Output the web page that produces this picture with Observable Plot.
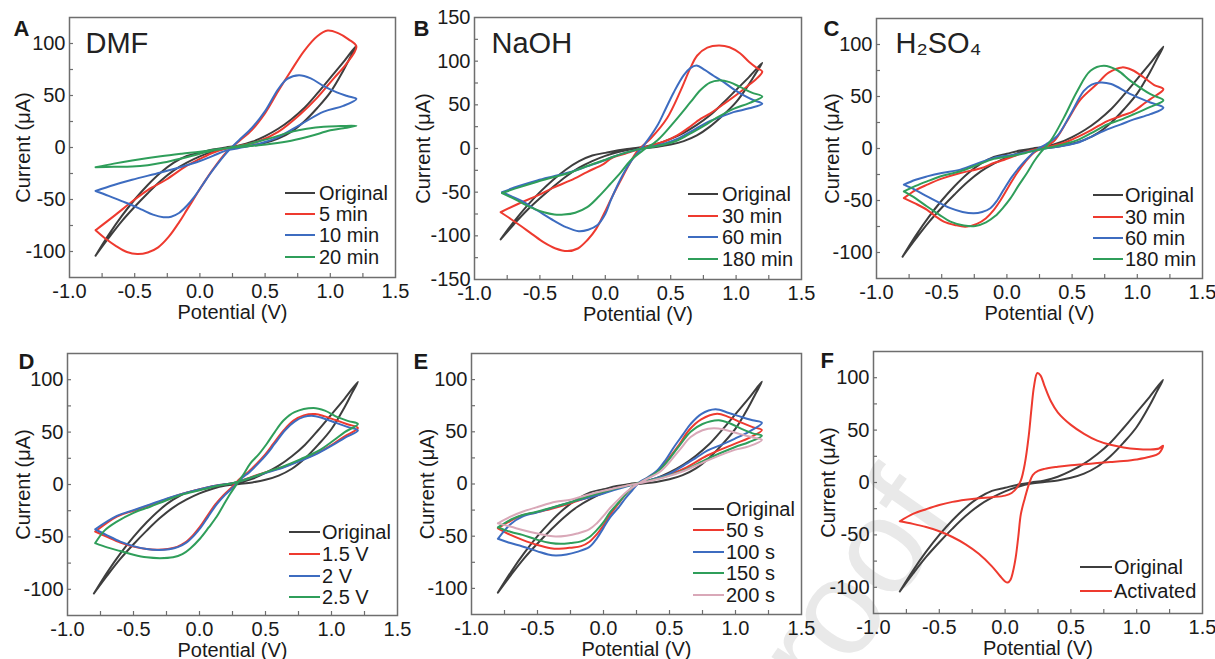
<!DOCTYPE html>
<html><head><meta charset="utf-8">
<script src="https://cdn.jsdelivr.net/npm/d3@7"></script>
<script src="https://cdn.jsdelivr.net/npm/@observablehq/plot@0.6"></script>
<style>
body{margin:0;background:#fff;}
#root{position:relative;width:1215px;height:659px;overflow:hidden;font-family:"Liberation Sans",Arial,sans-serif;background:#fff;}
.panel{position:absolute;}
.lgl{position:absolute;height:2px;}
.lgt{position:absolute;font-size:20px;line-height:24px;color:#1a1a1a;white-space:nowrap;}
#wm{position:absolute;left:0;top:0;}
</style></head><body><div id="root">
<svg id="wm" width="1215" height="659"><text x="773" y="779" transform="rotate(-55 773 779)" font-family="Liberation Sans, Arial, sans-serif" font-size="135" fill="#e9e9e9">Proof</text></svg>
</div>
<script>
// ---------- tick labels ----------
const xMajor = [-1, -0.5, 0, 0.5, 1, 1.5];
const xInnerTicks = [-0.75, -0.5, -0.25, 0, 0.25, 0.5, 0.75, 1, 1.25];
const yMajor100 = [-100, -50, 0, 50, 100];
const yInner100 = [-100, -75, -50, -25, 0, 25, 50, 75, 100];
const yMajor150 = [-150, -100, -50, 0, 50, 100, 150];
const yInner150 = [-125, -100, -75, -50, -25, 0, 25, 50, 75, 100, 125];

// ---------- legend categories ----------
const labelsA = ["Original", "5 min", "10 min", "20 min"];
const labelsB = ["Original", "30 min", "60 min", "180 min"];
const labelsC = ["Original", "30 min", "60 min", "180 min"];
const labelsD = ["Original", "1.5 V", "2 V", "2.5 V"];
const labelsE = ["Original", "50 s", "100 s", "150 s", "200 s"];
const labelsF = ["Original", "Activated"];

// ---------- series values [potential V, current µA] ----------
const original = [[-0.8,-104],[-0.7,-84],[-0.6,-66],[-0.5,-50],[-0.4,-36],[-0.3,-24],[-0.2,-14.5],[-0.1,-8],[0,-5],[0.1,-2],[0.2,0],[0.3,2],[0.4,5.5],[0.5,11],[0.6,18],[0.7,27],[0.8,38],[0.9,52],[1.0,67],[1.1,82],[1.2,98],
 [1.15,86],[1.1,74],[1.0,53],[0.9,38],[0.8,25],[0.7,15],[0.6,8.5],[0.5,4.5],[0.4,2],[0.3,0.5],[0.2,-1],[0.1,-4],[0,-8.5],[-0.1,-14.5],[-0.2,-22],[-0.3,-32],[-0.4,-44],[-0.5,-57],[-0.6,-71],[-0.7,-87],[-0.8,-104]];

const dmf5 = [[-0.8,-79.5],[-0.72,-88],[-0.64,-95],[-0.56,-100.5],[-0.48,-102.5],[-0.4,-101],[-0.32,-96],[-0.24,-86],[-0.16,-72],[-0.1,-60],[-0.03,-46],[0.03,-34],[0.1,-21],[0.2,-5],[0.3,6],[0.4,17],[0.5,33],[0.6,54],[0.7,74],[0.8,93],[0.9,107],[0.98,112.5],[1.06,110],[1.14,104],[1.2,97],
 [1.12,80],[1.03,67],[0.9,48],[0.77,32],[0.6,15],[0.45,6],[0.3,1.5],[0.2,-1],[0.1,-5],[0,-11],[-0.1,-17.5],[-0.26,-31],[-0.4,-41],[-0.52,-52],[-0.65,-65],[-0.8,-79.5]];
const dmf10 = [[-0.8,-41.8],[-0.7,-46.5],[-0.6,-51.5],[-0.52,-55.5],[-0.44,-60],[-0.36,-64.5],[-0.28,-67],[-0.22,-66.5],[-0.16,-63],[-0.1,-56],[-0.04,-47],[0.02,-36],[0.08,-25],[0.14,-15],[0.22,-3],[0.3,7],[0.4,19],[0.5,35],[0.6,56],[0.67,66],[0.76,69.5],[0.85,66.5],[0.95,59],[1.05,53],[1.13,49.5],[1.2,46.7],
 [1.1,40],[0.95,34.5],[0.77,22],[0.6,10],[0.45,3.5],[0.3,-0.5],[0.2,-3],[0.1,-8],[0,-13],[-0.14,-18.5],[-0.3,-24],[-0.52,-31],[-0.66,-36],[-0.8,-41.8]];
const dmf20 = [[-0.8,-18.9],[-0.66,-18.6],[-0.52,-18.3],[-0.4,-17],[-0.28,-14.5],[-0.14,-10.5],[0,-6],[0.12,-2.5],[0.25,0.5],[0.35,2.5],[0.44,5.5],[0.57,10],[0.7,15],[0.82,18],[0.95,20],[1.08,20.6],[1.2,20.9],
 [1.1,18.5],[1.0,16.5],[0.85,11],[0.7,6.5],[0.55,3.5],[0.44,2],[0.3,0.5],[0.15,-1.5],[0,-4],[-0.14,-6],[-0.3,-8.5],[-0.52,-12.5],[-0.66,-15.5],[-0.8,-18.9]];

const naoh30 = [[-0.8,-73],[-0.72,-81],[-0.648,-88.5],[-0.56,-98],[-0.47,-107.5],[-0.38,-114.5],[-0.29,-117.5],[-0.21,-114.5],[-0.138,-105],[-0.07,-92],[-0.011,-75],[0.05,-56],[0.116,-37],[0.18,-19],[0.244,-3],[0.35,12],[0.473,35],[0.575,66],[0.65,92],[0.703,106.5],[0.78,115.5],[0.868,118],[0.95,116],[1.03,109],[1.1,99],[1.16,92],[1.2,88],
 [1.15,79],[1.1,73],[1.034,65],[0.906,51],[0.8,40],[0.728,34],[0.63,23],[0.55,15],[0.45,8],[0.35,3.5],[0.25,-1],[0.15,-6],[0.05,-11],[-0.011,-17.5],[-0.14,-27],[-0.266,-36.6],[-0.4,-45],[-0.52,-54],[-0.66,-63],[-0.8,-73]];
const naoh60 = [[-0.79,-50],[-0.72,-54.5],[-0.648,-59.5],[-0.52,-71],[-0.394,-82.5],[-0.3,-90],[-0.203,-94.7],[-0.13,-93],[-0.062,-88],[0,-75],[0.04,-60],[0.1,-40],[0.167,-21.4],[0.23,-8],[0.294,3.5],[0.397,26],[0.46,45],[0.524,64.5],[0.6,84],[0.65,92],[0.697,95],[0.76,90],[0.83,83],[0.906,76],[0.98,68],[1.059,60.7],[1.13,55.5],[1.2,51.2],
 [1.1,46],[0.98,41.6],[0.88,36],[0.779,30],[0.66,20],[0.55,11],[0.45,5.5],[0.35,2],[0.25,-1],[0.15,-5],[0.05,-10],[-0.011,-13.7],[-0.14,-20.5],[-0.266,-27],[-0.4,-32],[-0.52,-36.6],[-0.66,-43],[-0.79,-50]];
const naoh180 = [[-0.79,-51],[-0.72,-56],[-0.648,-61.5],[-0.56,-68],[-0.47,-73],[-0.39,-75.5],[-0.317,-75.6],[-0.23,-73.5],[-0.138,-67.2],[-0.05,-55],[0.04,-40.4],[0.12,-27],[0.193,-13.7],[0.28,-3],[0.397,9.2],[0.524,30],[0.651,53],[0.728,67],[0.8,75.5],[0.868,78],[0.95,76],[1.034,70.2],[1.12,64],[1.2,59.5],
 [1.1,52],[0.98,45.4],[0.85,35],[0.779,28.3],[0.66,18],[0.55,9.2],[0.45,4.5],[0.35,1.5],[0.25,-1],[0.15,-5],[0.05,-10],[-0.011,-13.5],[-0.14,-20],[-0.266,-27.5],[-0.4,-33],[-0.52,-38],[-0.66,-44.5],[-0.79,-51]];

const h2so430 = [[-0.79,-47.7],[-0.7,-53],[-0.612,-59],[-0.55,-65],[-0.484,-70.3],[-0.4,-73.5],[-0.318,-75.2],[-0.23,-72.5],[-0.16,-67],[-0.1,-59],[-0.05,-50],[0.014,-36.5],[0.078,-23.5],[0.14,-13],[0.205,-4.2],[0.28,1],[0.36,7],[0.462,26.4],[0.564,47],[0.69,62],[0.78,73],[0.884,78],[0.96,75.5],[1.05,68.3],[1.13,61],[1.2,57],
 [1.1,47.5],[1.05,43],[0.973,36],[0.87,31],[0.77,26.4],[0.65,18],[0.54,11],[0.45,6],[0.35,2.5],[0.25,0],[0.15,-3],[0.05,-7.5],[-0.05,-12],[-0.101,-14],[-0.2,-19],[-0.357,-23.5],[-0.5,-29],[-0.612,-34.8],[-0.7,-40],[-0.79,-47.7]];
const h2so460 = [[-0.79,-34.8],[-0.7,-40],[-0.612,-46],[-0.52,-52],[-0.433,-57.4],[-0.34,-61],[-0.254,-62.3],[-0.19,-61],[-0.127,-57.4],[-0.075,-50],[-0.025,-39.7],[0.04,-27],[0.103,-17],[0.17,-8],[0.23,-1],[0.3,4],[0.386,12],[0.488,32.9],[0.59,55.4],[0.65,61.5],[0.718,63.5],[0.8,62],[0.948,52.2],[1.1,44.2],[1.2,39.3],
 [1.1,33],[0.973,28],[0.87,23],[0.77,18.4],[0.65,11.5],[0.54,5.5],[0.45,3],[0.35,1],[0.25,-1],[0.15,-3.5],[0.05,-6],[-0.101,-9],[-0.23,-14.5],[-0.357,-20.3],[-0.5,-23.5],[-0.612,-26.8],[-0.7,-30],[-0.79,-34.8]];
const h2so4180 = [[-0.79,-41.3],[-0.7,-48],[-0.612,-55.8],[-0.52,-63.5],[-0.433,-70.3],[-0.33,-74],[-0.242,-74.5],[-0.16,-71],[-0.09,-65],[-0.03,-57],[0.027,-48],[0.09,-35.5],[0.154,-23.5],[0.21,-12],[0.256,-4.2],[0.334,7.1],[0.437,29.7],[0.54,55.4],[0.641,74.7],[0.743,79.5],[0.85,75],[0.948,65],[1.101,52.2],[1.2,46.4],
 [1.1,40],[0.973,32.9],[0.87,27.5],[0.77,23.2],[0.65,15],[0.54,8],[0.45,4.5],[0.35,1.5],[0.25,-1],[0.15,-4],[0.05,-7],[-0.101,-10],[-0.23,-16],[-0.357,-21.9],[-0.5,-26.5],[-0.612,-31.6],[-0.7,-36],[-0.79,-41.3]];

const volt15 = [[-0.79,-44.9],[-0.7,-50],[-0.6,-55.5],[-0.5,-59.3],[-0.4,-61.6],[-0.32,-62.2],[-0.24,-61.5],[-0.17,-59.5],[-0.11,-55.5],[-0.05,-48.5],[0,-41],[0.056,-30.6],[0.12,-19],[0.182,-10.1],[0.25,-2],[0.308,5.7],[0.37,12],[0.434,19.9],[0.5,29],[0.56,38.9],[0.64,52],[0.712,61],[0.79,66],[0.876,67.3],[0.95,65],[1.03,61.5],[1.12,57.5],[1.2,54],
 [1.1,46],[1.015,38.9],[0.9,30.5],[0.763,23],[0.64,17],[0.51,12],[0.4,7.5],[0.258,1.5],[0.15,-0.5],[0.05,-3],[-0.121,-8.5],[-0.25,-14],[-0.374,-19.6],[-0.5,-25],[-0.626,-30.6],[-0.79,-44.9]];
const volt2 = [[-0.79,-42.7],[-0.7,-48.5],[-0.6,-54.5],[-0.5,-58.8],[-0.4,-61.6],[-0.31,-62.5],[-0.23,-61.8],[-0.16,-59.5],[-0.1,-55.5],[-0.04,-48.5],[0.01,-41],[0.066,-30.6],[0.13,-19],[0.192,-10.1],[0.26,-2],[0.318,5.7],[0.38,12],[0.444,19.9],[0.51,29],[0.57,38.9],[0.65,52],[0.72,60],[0.79,64.5],[0.851,65.7],[0.93,63.5],[1.03,59],[1.12,55],[1.2,51.5],
 [1.1,44.5],[1.015,38],[0.9,30],[0.763,22.5],[0.64,16.5],[0.51,11.5],[0.4,7],[0.258,1.5],[0.15,-0.5],[0.05,-3],[-0.121,-8.5],[-0.25,-13.5],[-0.374,-19],[-0.5,-24.5],[-0.626,-30],[-0.79,-42.7]];
const volt25 = [[-0.79,-55.9],[-0.7,-60],[-0.6,-63.5],[-0.5,-67],[-0.4,-69.5],[-0.3,-70.3],[-0.2,-69.5],[-0.13,-66.5],[-0.07,-61],[0.005,-51.5],[0.07,-41],[0.131,-30.6],[0.18,-20],[0.232,-9],[0.28,0],[0.33,9],[0.384,20],[0.45,29],[0.51,38.9],[0.57,50],[0.636,61],[0.72,69],[0.864,73],[0.95,70.5],[1.05,64],[1.13,60.5],[1.2,57.8],
 [1.1,50],[1.015,42],[0.9,32],[0.763,24],[0.64,17.5],[0.51,12],[0.4,7],[0.258,1.5],[0.15,-1],[0.05,-4],[-0.121,-9.2],[-0.25,-15],[-0.374,-21.2],[-0.5,-27],[-0.626,-35.4],[-0.72,-44],[-0.79,-55.9]];

const sec50 = [[-0.8,-42.4],[-0.7,-49],[-0.614,-53.5],[-0.5,-58.5],[-0.4,-61.5],[-0.337,-62],[-0.25,-61],[-0.17,-59.5],[-0.109,-55.5],[-0.05,-48],[0,-39.5],[0.05,-29.5],[0.118,-18],[0.18,-8],[0.23,-2],[0.3,3],[0.42,14],[0.558,35],[0.65,52],[0.74,62],[0.861,67.4],[0.95,64],[1.05,58.5],[1.13,54.5],[1.2,51.6],
 [1.1,44],[0.993,38.4],[0.786,27.3],[0.609,14.6],[0.45,7],[0.3,2],[0.2,-1],[0.1,-4],[0,-8],[-0.109,-12.5],[-0.25,-18.5],[-0.4,-24],[-0.52,-27.5],[-0.614,-30],[-0.7,-35],[-0.8,-42.4]];
const sec100 = [[-0.8,-52.5],[-0.72,-56],[-0.614,-59.8],[-0.5,-64.5],[-0.42,-67.5],[-0.362,-68.4],[-0.28,-67.5],[-0.2,-65],[-0.109,-60.5],[-0.05,-52],[0,-42],[0.05,-32],[0.118,-21.8],[0.17,-13],[0.218,-6],[0.27,1.5],[0.33,6],[0.407,13],[0.47,23],[0.533,35.2],[0.6,47],[0.659,57.3],[0.74,67],[0.848,71.6],[0.95,68],[1.05,64],[1.13,61],[1.2,58.5],
 [1.1,50],[0.993,43.3],[0.9,38],[0.786,32],[0.7,25],[0.609,17.8],[0.5,10],[0.4,5.5],[0.3,2],[0.2,-1.5],[0.1,-5],[0,-9.2],[-0.109,-13],[-0.25,-17.5],[-0.362,-21.8],[-0.5,-27],[-0.614,-31.3],[-0.7,-38],[-0.8,-52.5]];
const sec150 = [[-0.8,-41.5],[-0.7,-46],[-0.614,-48.7],[-0.5,-53.5],[-0.4,-56.5],[-0.324,-57.3],[-0.25,-56.5],[-0.17,-55],[-0.109,-51],[-0.05,-44],[0,-36.5],[0.05,-27],[0.12,-17],[0.18,-8],[0.23,-2],[0.3,3],[0.43,14],[0.565,35],[0.66,50],[0.75,57.5],[0.874,61.1],[0.96,58],[1.05,52.5],[1.13,48.5],[1.2,46.2],
 [1.1,40],[0.993,35.2],[0.786,24.1],[0.609,13],[0.45,6.5],[0.3,2],[0.2,-1],[0.1,-4],[0,-7.5],[-0.109,-11.5],[-0.25,-17.5],[-0.4,-23],[-0.52,-27],[-0.614,-29.7],[-0.7,-34],[-0.8,-41.5]];
const sec200 = [[-0.8,-37.7],[-0.7,-41],[-0.614,-44],[-0.5,-47.5],[-0.42,-49.5],[-0.362,-50.3],[-0.28,-49.5],[-0.2,-47.5],[-0.109,-43.5],[-0.05,-37.5],[0,-30.5],[0.05,-23],[0.12,-14],[0.18,-7],[0.24,-1.5],[0.3,3],[0.44,13],[0.572,32],[0.66,45],[0.75,51.5],[0.836,53.5],[0.92,52],[1.03,48],[1.12,45],[1.2,42.2],
 [1.1,36],[0.993,32.7],[0.786,22.4],[0.609,12.5],[0.45,6],[0.3,1.5],[0.2,-1],[0.1,-3.5],[0,-6.5],[-0.109,-10],[-0.25,-15],[-0.362,-17],[-0.5,-22],[-0.614,-26.6],[-0.7,-31],[-0.8,-37.7]];

const activated = [[-0.8,-37],[-0.7,-30],[-0.6,-25.5],[-0.5,-21.5],[-0.4,-18.5],[-0.3,-16.5],[-0.2,-15],[-0.1,-14],[0,-12.5],[0.05,-10],[0.09,-5],[0.12,2],[0.15,18],[0.18,45],[0.2,70],[0.22,92],[0.245,104.5],[0.27,102],[0.3,92],[0.35,77],[0.4,67],[0.5,55],[0.6,46.5],[0.7,40],[0.8,36],[0.9,33.5],[1.0,32],[1.1,31.5],[1.17,32.5],[1.2,35],
 [1.17,28],[1.1,24.5],[1.0,22],[0.9,20.5],[0.8,19.5],[0.7,18.5],[0.6,17.5],[0.5,16.5],[0.4,15],[0.3,13],[0.25,11],[0.21,7],[0.18,-2],[0.15,-15],[0.12,-30],[0.1,-52],[0.08,-72],[0.06,-85],[0.04,-93],[0.02,-95.5],[0,-94.5],[-0.04,-89],[-0.1,-80],[-0.2,-68],[-0.3,-59],[-0.4,-52],[-0.5,-46.5],[-0.6,-42.5],[-0.7,-39.5],[-0.8,-37]];

// ---------- styles ----------
const K = "#3e3e3e", R = "#ee3a2f", B = "#3d6cc0", G = "#2f9e5a", PK = "#d9a8b8";
const FRAME = "#6e6e6e";

// ---------- panel layout ----------
const panels = [
  {letter:"A", name:"DMF", left:0, top:0, h:330, m:[17,10,53,69], yDomain:[-125,125], yMajor:yMajor100, yInner:yInner100,
   series:[original,dmf5,dmf10,dmf20], labels:labelsA, colors:[K,R,B,G], nameD:[16,26], letterD:[-56,10], ylabD:-46,
   legend:{x1:285,x2:315,tx:319,ys:[192.7,213.7,235.3,257]}},
  {letter:"B", name:"NaOH", left:405, top:0, h:330, m:[17,9,51,69], yDomain:[-150,150], yMajor:yMajor150, yInner:yInner150,
   series:[original,naoh30,naoh60,naoh180], labels:labelsB, colors:[K,R,B,G], nameD:[17,26], letterD:[-61,10], ylabD:-51,
   legend:{x1:688,x2:718,tx:722,ys:[194,216,237.3,259]}},
  {letter:"C", name:"H\u2082SO\u2084", left:810, top:0, h:330, m:[18,13,52,66], yDomain:[-125,125], yMajor:yMajor100, yInner:yInner100,
   series:[original,h2so430,h2so460,h2so4180], labels:labelsC, colors:[K,R,B,G], nameD:[19,25], letterD:[-53,9], ylabD:-44,
   legend:{x1:1093,x2:1123,tx:1125,ys:[195,216.7,238.3,259.3]}},
  {letter:"D", name:"", left:0, top:330, h:329, m:[23,8,44,67], yDomain:[-125,125], yMajor:yMajor100, yInner:yInner100,
   series:[original,volt15,volt2,volt25], labels:labelsD, colors:[K,R,B,G], nameD:[0,0], letterD:[-49,7], ylabD:-44,
   legend:{x1:289,x2:320,tx:322,ys:[532.3,554,575.7,597.3]}},
  {letter:"E", name:"", left:405, top:330, h:329, m:[23,9,45,66], yDomain:[-125,125], yMajor:yMajor100, yInner:yInner100,
   series:[original,sec50,sec100,sec150,sec200], labels:labelsE, colors:[K,R,B,G,PK], nameD:[0,0], letterD:[-58,7], ylabD:-44,
   legend:{x1:693,x2:724,tx:726,ys:[509,530,551.7,573.3,595]}},
  {letter:"F", name:"", left:810, top:330, h:329, m:[21,13,46,63], yDomain:[-125,125], yMajor:yMajor100, yInner:yInner100,
   series:[original,activated], labels:labelsF, colors:[K,R], nameD:[0,0], letterD:[-53,8], ylabD:-45,
   legend:{x1:1080,x2:1112,tx:1114,ys:[566.7,590.7]}}
];

const root = document.getElementById("root");
const W = 405;
for (const p of panels) {
  const [mt, mr, mb, ml] = p.m;
  const iw = W - ml - mr, ih = p.h - mt - mb;
  const marks = [];
  p.series.forEach((s, i) => {
    marks.push(Plot.line(s.map(([x, y]) => ({x, y})), {x: "x", y: "y", stroke: p.colors[i], strokeWidth: 2, curve: "catmull-rom"}));
  });
  marks.push(Plot.frame({stroke: FRAME, strokeWidth: 1.5}));
  marks.push(Plot.ruleX(xInnerTicks, {x: d => d, insetTop: ih - 4, stroke: FRAME, strokeWidth: 1.2}));
  marks.push(Plot.ruleY(p.yInner, {y: d => d, insetRight: iw - 4, stroke: FRAME, strokeWidth: 1.2}));
  marks.push(Plot.axisX(xMajor, {tickSize: 0, tickPadding: 6, tickFormat: d => d.toFixed(1), label: null}));
  marks.push(Plot.axisY(p.yMajor, {tickSize: 0, tickPadding: 4, tickFormat: d => String(d), label: null}));
  marks.push(Plot.text(["Current (\u03bcA)"], {frameAnchor: "left", textAnchor: "middle", lineAnchor: "middle", rotate: -90, dx: p.ylabD, fontSize: 20}));
  marks.push(Plot.text(["Potential (V)"], {frameAnchor: "bottom", textAnchor: "middle", lineAnchor: "middle", dy: 35, fontSize: 20}));
  marks.push(Plot.text([p.letter], {frameAnchor: "top-left", textAnchor: "start", lineAnchor: "middle", dx: p.letterD[0], dy: p.letterD[1] + 1, fontSize: 22, fontWeight: "bold"}));
  if (p.name) marks.push(Plot.text([p.name], {frameAnchor: "top-left", textAnchor: "start", lineAnchor: "middle", dx: p.nameD[0], dy: p.nameD[1], fontSize: 29, fill: "#222"}));
  const svg = Plot.plot({
    width: W, height: p.h,
    marginTop: mt, marginRight: mr, marginBottom: mb, marginLeft: ml,
    x: {domain: [-1, 1.5]},
    y: {domain: p.yDomain},
    style: {background: "transparent", fontSize: "20px", fontFamily: "'Liberation Sans', Arial, sans-serif", color: "#1a1a1a", overflow: "visible"},
    marks
  });
  svg.classList.add("panel");
  svg.style.left = p.left + "px";
  svg.style.top = p.top + "px";
  root.appendChild(svg);
  // legend
  p.labels.forEach((lab, i) => {
    const y = p.legend.ys[i];
    const ln = document.createElement("div");
    ln.className = "lgl";
    ln.style.left = p.legend.x1 + "px";
    ln.style.width = (p.legend.x2 - p.legend.x1) + "px";
    ln.style.top = (y - 1) + "px";
    ln.style.background = p.colors[i];
    root.appendChild(ln);
    const tx = document.createElement("div");
    tx.className = "lgt";
    tx.style.left = p.legend.tx + "px";
    tx.style.top = (y - 12) + "px";
    tx.textContent = lab;
    root.appendChild(tx);
  });
}
</script></body></html>
